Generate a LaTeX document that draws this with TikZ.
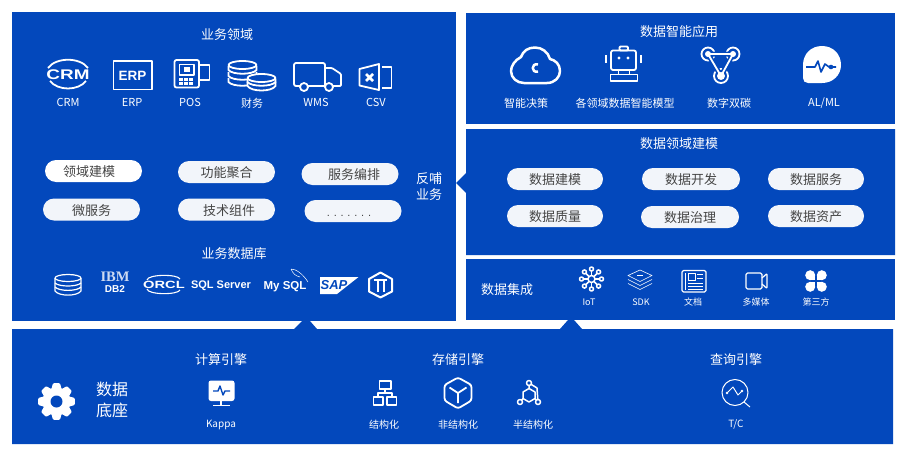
\documentclass[tikz,border=0pt]{standalone}
\usepackage{fontspec}
\setmainfont{Noto Sans CJK SC}
\newfontfamily\latinfont{Liberation Sans}
\newfontfamily\ibmfont{Liberation Serif}
\usetikzlibrary{positioning}
\definecolor{pnlblue}{HTML}{0348BC}
\definecolor{pillgray}{HTML}{F2F5FA}
\definecolor{pilltxt}{HTML}{444444}
\tikzset{
  pnl/.style={fill=pnlblue},
  ttl/.style={text=white,inner sep=0pt,yshift=-0.8pt,font=\fontsize{13}{15}\selectfont},
  lbl/.style={text=white,inner sep=0pt,yshift=-0.6pt,font=\fontsize{11}{12}\selectfont},
  smalllbl/.style={text=white,inner sep=0pt,yshift=-0.5pt,font=\fontsize{9}{11}\selectfont},
  btmlbl/.style={text=white,inner sep=0pt,yshift=-0.5pt,font=\fontsize{10}{12}\selectfont},
  pill/.style={fill=pillgray,text=pilltxt,rounded corners=11pt,minimum width=97pt,minimum height=22pt,inner sep=0pt,text height=12.5pt,text depth=1pt,font=\fontsize{13}{15}\selectfont},
  icn/.style={draw=white,line width=1.8pt,line join=round},
  thinicn/.style={draw=white,line width=0.8pt,line join=round},
  icnfill/.style={fill=white},
  logotxt/.style={text=white,inner sep=0pt,font=\latinfont\bfseries\fontsize{10.5}{12}\selectfont}
}
\begin{document}
\begin{tikzpicture}[x=1pt,y=-1pt]
\useasboundingbox (0,0) rectangle (914,450);

% Paneles
\fill[pnl] (12,12) rectangle (456,321);
\fill[pnl] (466,13) rectangle (895,124);
\fill[pnl] (466,129) -- (895,129) -- (895,255) -- (466,255) -- (466,193) -- (456,183) -- (466,173) -- cycle;
\fill[pnl] (466,259) rectangle (895,320);
\fill[pnl] (12,329) -- (294,329) -- (302,321) -- (310,321) -- (317,329) -- (560,329) -- (568,320) -- (574,320) -- (582,329) -- (893,329) -- (893,444) -- (12,444) -- cycle;

% Dominio de negocio
\node[ttl] (ywly) at (227,34) {业务领域};
\node[lbl] (crm) at (68,102) {CRM};
\node[lbl] (erp) at (132,102) {ERP};
\node[lbl] (pos) at (190,102) {POS};
\node[lbl] (caiwu) at (252,103) {财务};
\node[lbl] (wms) at (316,102) {WMS};
\node[lbl] (csv) at (376,102) {CSV};

% CRM
\draw[icn] (48,68) .. controls (56,57) and (80,57) .. (88,68);
\draw[icn] (50,81) .. controls (58,91) and (78,91) .. (86,81);
\node[logotxt,xscale=1.35,transform shape,font=\latinfont\bfseries\fontsize{14}{15}\selectfont] (crmlogo) at (68,75) {CRM};
% ERP
\draw[icn] (113.5,61) rectangle (152,89.5);
\node[logotxt,font=\latinfont\bfseries\fontsize{13.5}{15}\selectfont] (erplogo) at (132.5,75.5) {ERP};
% POS
\draw[icn,rounded corners=2pt] (174.5,60) rectangle (199,87.5);
\draw[icn] (199,65) -- (209.5,65) -- (209.5,80) -- (199,80);
\draw[icn] (179.5,64.5) rectangle (194,75);
\fill[white] (184,67) rectangle (190,72);
\foreach \px in {179,184,189}
  \foreach \py in {78,82}
    \fill[white] (\px,\py) rectangle ++(3.5,2.5);
% Monedas
\begin{scope}[shift={(242.5,0)}]
\foreach \py in {78,72,66}
  \draw[icn,fill=pnlblue] (-14,\py) -- (-14,\py+4) .. controls (-10,\py+9) and (10,\py+9) .. (14,\py+4) -- (14,\py) ;
\draw[icn,fill=pnlblue] (0,65) ellipse [x radius=14,y radius=4];
\end{scope}
\begin{scope}[shift={(261.5,0)}]
\draw[icn,fill=pnlblue] (-14,82) -- (-14,86) .. controls (-10,92) and (10,92) .. (14,86) -- (14,82) -- cycle;
\draw[icn,fill=pnlblue] (-14,79) -- (-14,82) .. controls (-10,87) and (10,87) .. (14,82) -- (14,79) -- cycle;
\draw[icn,fill=pnlblue] (0,78) ellipse [x radius=14,y radius=4];
\end{scope}
% Camion
\draw[icn,rounded corners=2pt] (299,86) -- (294,86) -- (294,63) -- (325,63) -- (325,86);
\draw[icn,rounded corners=1pt] (325,68) -- (332,68) -- (341,74) -- (341,86) -- (325,86) -- (299,86);
\draw[icn,fill=pnlblue] (304,87) circle (4);
\draw[icn,fill=pnlblue] (329,87) circle (4);
% CSV
\draw[icn] (359.5,69) -- (379,64) -- (379,90) -- (359.5,85.5) -- cycle;
\draw[icn] (382,67) -- (391.5,67) -- (391.5,88) -- (382,88);
\draw[white,line width=2.5pt] (366,74) -- (373,81) (373,74) -- (366,81);

% Bloques de servicio
\node[pill,fill=white] (lyjm) at (93.5,171) {\hspace*{-9pt}领域建模};
\node[pill] (gnjh) at (226.5,172) {功能聚合};
\node[pill] (fwbp) at (350,174) {\hspace*{8pt}服务编排};
\node[pill] (wfw) at (91.5,209.5) {微服务};
\node[pill] (jszj) at (226.5,209.5) {\hspace*{5pt}技术组件};
\node[pill,font=\latinfont\fontsize{11}{13}\selectfont] (dots) at (353,211) {\hspace*{-8pt}.\foreach \n in {1,...,6}{\hspace{3.8pt}.}};
\node[ttl,align=center,text width=26pt,font=\fontsize{13}{16}\selectfont] (fbyw) at (429,186) {反哺\\业务};

% Base de datos de negocio
\node[ttl] (ywsjk) at (234,253) {业务数据库};
\begin{scope}[shift={(68,0)}]
\draw[icn,line width=1.2pt] (-13,278) -- (-13,291) .. controls (-9,296.5) and (9,296.5) .. (13,291) -- (13,278);
\draw[icn,line width=1.2pt] (0,278) ellipse [x radius=13,y radius=3.5];
\draw[icn,line width=1.2pt] (-13,283) .. controls (-9,287) and (9,287) .. (13,283);
\draw[icn,line width=1.2pt] (-13,287) .. controls (-9,291.5) and (9,291.5) .. (13,287);
\end{scope}
\node[logotxt,font=\ibmfont\bfseries\fontsize{14.5}{15}\selectfont,text=white!80!pnlblue] (ibm) at (115,277) {IBM};
\node[logotxt,font=\latinfont\bfseries\fontsize{10}{11}\selectfont] (db2) at (115,289.5) {DB2};
\draw[icn,line width=1.1pt] (147,280) .. controls (148,274) and (178,274) .. (180,279);
\draw[icn,line width=1.1pt] (147,289) .. controls (148,295) and (178,295) .. (180,290);
\node[logotxt,xscale=1.4,transform shape,font=\latinfont\bfseries\fontsize{10.5}{12}\selectfont] (orcl) at (164,284.5) {ORCL};
\node[logotxt,font=\latinfont\bfseries\fontsize{11}{12}\selectfont] (sqlsrv) at (221,285.5) {SQL Server};
\node[logotxt,font=\latinfont\bfseries\fontsize{11.5}{13}\selectfont] (mysql) at (285,287) {My SQL};
\draw[thinicn,line width=0.5pt] (291,269) .. controls (296,269) and (303,274) .. (308,282) (291,269) .. controls (293,274) and (296,276) .. (300,277);
\fill[white] (320,277) -- (358.5,277) -- (337,294) -- (320,294) -- cycle;
\node[logotxt,text=pnlblue,font=\latinfont\bfseries\itshape\fontsize{13}{14}\selectfont] (sap) at (334,285.5) {SAP};
\draw[icn,line width=2pt] (380.5,272.5) -- (392,279) -- (392,291.5) -- (380.5,297.5) -- (369,291.5) -- (369,279) -- cycle;
\draw[icn,line width=2pt] (374,279.5) -- (387,279.5) (378,280) -- (378,291.5) (384,280) -- (384,291.5);

% Aplicaciones inteligentes
\node[ttl] (znyy) at (679,31) {数据智能应用};
\node[lbl] (zncl) at (526,103) {智能决策};
\node[lbl] (gly) at (625,103) {各领域数据智能模型};
\node[lbl] (szst) at (729,103) {数字双碳};
\node[lbl] (alml) at (824,103) {AL/ML};
% Nube
\draw[icn,line width=2.5pt] (524,83) -- (547,83) .. controls (555,83) and (560,77) .. (560,71) .. controls (560,64) and (555,60) .. (550,59) .. controls (548,52) and (542,47.5) .. (535,47.5) .. controls (528,47.5) and (523,51) .. (521,57) .. controls (515,60) and (511,66) .. (511,71) .. controls (511,78) and (517,83) .. (524,83) -- cycle;
\draw[icn,line width=2.5pt] (538,64.5) .. controls (531,62.5) and (531,73.5) .. (538,71.5);
% Robot
\draw[icn,rounded corners=2pt] (611,50.5) rectangle (636,70);
\draw[icn,rounded corners=1pt] (619.5,46.5) rectangle (628,50.5);
\draw[icn] (606,55) -- (606,63) (641,55) -- (641,63);
\fill[white] (619,58) circle (1.7) (628,58) circle (1.7);
\draw[icn] (618.5,70) -- (618.5,74.5) (629.5,70) -- (629.5,74.5);
\draw[icn] (610.5,74.5) rectangle (637.5,81);
% Triangulo
\draw[icn] (708,54) circle (6.5);
\draw[icn] (733,54) circle (6.5);
\draw[icn] (721,76) circle (7);
\draw[pnlblue,line width=5pt] (708,54) -- (733,54) -- (721,76) -- cycle;
\draw[icn] (708,54) -- (733,54) -- (721,76) -- cycle;
\fill[white] (708,54) circle (3) (733,54) circle (3) (721,76) circle (4);

% Blob
\fill[white] (803,65) .. controls (803,54) and (811,46) .. (822,46) .. controls (833,46) and (841,54) .. (841,65) .. controls (841,75) and (833,83) .. (822,83) -- (808,83) .. controls (805,83) and (803,81) .. (803,78) -- cycle;
\draw[pnlblue,line width=1.6pt,line join=round] (806,67) -- (815,67) -- (818,61) -- (821,72) -- (825,64) -- (829,67) -- (836,67);
\fill[pnlblue] (831,67) circle (2.3);

% Modelado
\node[ttl] (lyjmttl) at (679,143) {数据领域建模};
\node[pill,minimum width=96pt] (sjjm) at (555,179) {数据建模};
\node[pill,minimum width=98pt] (sjkf) at (691,179) {数据开发};
\node[pill,minimum width=96pt] (sjfw) at (816,179) {数据服务};
\node[pill,minimum width=96pt] (sjzl) at (555,216) {数据质量};
\node[pill,minimum width=98pt] (sjzz) at (690,217) {数据治理};
\node[pill,minimum width=96pt] (sjzc) at (816,216) {数据资产};

% Integracion
\node[ttl] (sjjc) at (507,289) {数据集成};
\node[smalllbl] (iot) at (589,302) {IoT};
\node[smalllbl] (sdk) at (641,302) {SDK};
\node[smalllbl] (wd) at (693,302) {文档};
\node[smalllbl] (dmt) at (756,302) {多媒体};
\node[smalllbl] (dsf) at (816,302) {第三方};
% IoT
\begin{scope}[shift={(591.5,279)}]
\foreach \a in {0,45,...,315} {
  \draw[thinicn,line width=1.5pt] (0,0) -- (\a:10);
  \draw[thinicn,line width=1.5pt,fill=pnlblue] (\a:10) circle (2);
}
\draw[thinicn,line width=1.5pt,fill=pnlblue] (0,0) circle (3.5);
\end{scope}
% SDK
\begin{scope}[shift={(640,0)}]
\draw[thinicn,line width=0.6pt] (-12,275.5) -- (0,270) -- (12,275.5) -- (0,281.5) -- cycle;
\draw[thinicn,line width=0.6pt] (-12,279.5) -- (0,285.5) -- (12,279.5);
\draw[thinicn,line width=0.6pt] (-12,283.5) -- (0,289.5) -- (12,283.5);
\draw[thinicn,line width=0.5pt] (-3,275) -- (3,275);
\end{scope}
% Documento
\draw[icn,line width=1.2pt,rounded corners=1.5pt] (682,270.5) rectangle (706,292);
\draw[icn,line width=1pt] (685.5,273) -- (685.5,289.5) (688,273.5) rectangle (695,280);
\draw[icn,line width=1pt] (697,274.5) -- (703,274.5) (697,278) -- (703,278) (688,283) -- (703,283) (688,286) -- (703,286) (688,289) -- (703,289);
% Video
\draw[icn,line width=1.2pt,rounded corners=1.5pt] (746,273) rectangle (762,289);
\draw[icn,line width=1.2pt,rounded corners=1pt] (762,278) -- (767,273.5) -- (767,288.5) -- (762,284);
% Trebol
\begin{scope}[shift={(816,281)}]
\foreach \sx/\sy in {-1/-1,1/-1,-1/1,1/1} {
  \fill[white] (\sx*5.8,\sy*5.8) circle (5);
  \fill[white] (\sx*1,\sy*1) rectangle (\sx*5.8,\sy*5.8);
}
\end{scope}

% Base
\node[ttl] (jsyq) at (221,359) {计算引擎};
\node[ttl] (ccyq) at (458,359) {存储引擎};
\node[ttl] (cxyq) at (736,359) {查询引擎};
\node[ttl,align=center,font=\fontsize{16}{21}\selectfont] (sjdz) at (112,399.5) {数据\\底座};
\node[btmlbl] (kappa) at (221,424) {Kappa};
\node[btmlbl] (jgh) at (384,424) {结构化};
\node[btmlbl] (fjgh) at (458,424) {非结构化};
\node[btmlbl] (bjgh) at (533,424) {半结构化};
\node[btmlbl] (tc) at (736,424) {T/C};
% Engranaje
\begin{scope}[shift={(56.5,401.5)}]
\foreach \a in {0,45,...,315}
  \fill[white,rotate=\a,rounded corners=1pt] (-5.5,-11) -- (-3.5,-18.3) -- (3.5,-18.3) -- (5.5,-11) -- cycle;
\fill[white] (0,0) circle (14);
\fill[pnlblue] (0,0) circle (6);
\end{scope}
% Monitor
\fill[white,rounded corners=2.5pt] (208.5,380.5) rectangle (234.5,401);
\draw[pnlblue,line width=1.4pt,line join=round] (213,391) -- (218,391) -- (220,386) -- (223,395) -- (225,391) -- (230,391);
\draw[icn,line width=1.4pt] (221,401) -- (221,405) (213,405.5) -- (230,405.5);
% Estructurado
\draw[icn,line width=1.5pt] (379.5,381) rectangle (391,389);
\draw[icn,line width=1.5pt] (373.5,397) rectangle (383,405);
\draw[icn,line width=1.5pt] (387,397) rectangle (396.5,405);
\draw[icn,line width=1.5pt] (385,389) -- (385,393) (378,397) -- (378,393) -- (392,393) -- (392,397);
% Hexagono
\draw[icn,rounded corners=2.5pt] (458,377.5) -- (471.5,385) -- (471.5,400.5) -- (458,408.5) -- (444.5,400.5) -- (444.5,385) -- cycle;
\draw[icn] (449.5,387.5) -- (458,393) -- (466.5,387.5) (458,393) -- (458,403);
% Semi
\draw[icn,line width=1.5pt] (529,388.5) -- (535,392) -- (535,398.5) -- (529,402) -- (523,398.5) -- (523,392) -- cycle;
\draw[icn,line width=1.5pt] (529,383) -- (529,388.5) (529,383) -- (537,388) -- (538,402) (523,398.5) -- (520,402) (535,398.5) -- (538,402);
\draw[icn,line width=1.5pt,fill=pnlblue] (529,383) circle (2.5);
\draw[icn,line width=1.5pt,fill=pnlblue] (520,402) circle (2.5);
\draw[icn,line width=1.5pt,fill=pnlblue] (538,402) circle (2.5);
% Lupa
\draw[thinicn,line width=1pt] (735,392.5) circle (13);
\draw[thinicn,line width=1pt] (744,402) -- (750,407);
\draw[thinicn,line width=1pt] (727,393) -- (733,387) -- (738,395) -- (742,391);
\fill[white] (727,393) circle (1.4) (742,391) circle (1.4);
\end{tikzpicture}
\end{document}
